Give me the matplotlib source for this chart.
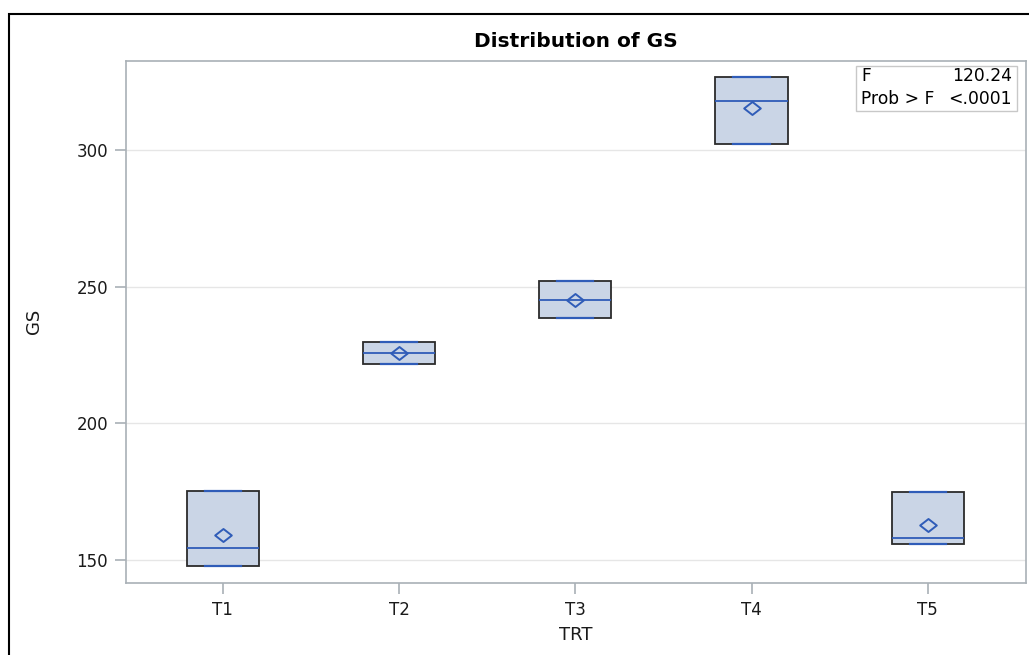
import numpy as np
import matplotlib.pyplot as plt
from matplotlib.patches import Rectangle
from matplotlib.path import Path

plt.rcParams['font.family'] = ['DejaVu Sans']

# GS observations per treatment (3 reps each)
trt = ['T1', 'T2', 'T3', 'T4', 'T5']
gs_values = [
    [148.0, 154.5, 175.2],
    [221.8, 225.7, 229.7],
    [238.7, 245.1, 252.0],
    [302.1, 317.9, 326.5],
    [155.9, 157.9, 174.8],
]
f_value = '120.24'
prob_f = '<.0001'


def sas_pctl(x, p):
    # percentile definition 5 (empirical distribution with averaging)
    x = np.sort(np.asarray(x))
    n = len(x)
    np_ = n * p
    j = int(np.floor(np_))
    g = np_ - j
    if g == 0:
        return 0.5 * (x[j - 1] + x[j])
    return x[j]


def box_stats(vals, label):
    q1 = sas_pctl(vals, 0.25)
    q3 = sas_pctl(vals, 0.75)
    return dict(label=label, med=float(np.median(vals)), q1=q1, q3=q3,
                whislo=min(vals), whishi=max(vals), mean=float(np.mean(vals)),
                fliers=[])


stats = [box_stats(v, t) for v, t in zip(gs_values, trt)]

W, H = 1029, 655
fig = plt.figure(figsize=(W / 100, H / 100), dpi=100)
fig.subplots_adjust(left=126 / W, right=1025.5 / W, top=1 - 60.5 / H, bottom=1 - 583 / H)
ax = fig.add_subplot(111)

blue = '#2f5cb8'
diamond = Path([(-1, 0), (0, 0.78), (1, 0), (0, -0.78), (-1, 0)],
               [Path.MOVETO, Path.LINETO, Path.LINETO, Path.LINETO, Path.CLOSEPOLY])

ax.bxp(stats, positions=range(1, 6), widths=0.41, capwidths=0.205,
       patch_artist=True, showmeans=True, showfliers=False,
       boxprops=dict(facecolor='#cad5e6', edgecolor='#2b2b2b', linewidth=1.3),
       medianprops=dict(color=blue, linewidth=1.3),
       whiskerprops=dict(color=blue, linewidth=1.3),
       capprops=dict(color=blue, linewidth=1.6, zorder=4),
       meanprops=dict(marker=diamond, markersize=12, markerfacecolor='none',
                      markeredgecolor=blue, markeredgewidth=1.4))

ax.set_xlim(0.45, 5.555)
ax.set_ylim(141.6, 332.7)
ax.set_yticks([150, 200, 250, 300])
ax.yaxis.grid(True, color='#e6e6e6', linewidth=1.0)
ax.set_axisbelow(True)

for s in ax.spines.values():
    s.set_color('#a9b0b6')
    s.set_linewidth(1.2)
ax.tick_params(axis='both', colors='#a9b0b6', length=8, width=1.2, labelsize=12,
               labelcolor='#1a1a1a', pad=5)

ax.set_xlabel('TRT', fontsize=13, color='#1a1a1a', labelpad=5)
ax.set_ylabel('GS', fontsize=13, color='#1a1a1a', labelpad=24)
ax.set_title('Distribution of GS', fontsize=14.5, fontweight='bold', pad=10)

# F test inset
ax.add_patch(Rectangle((856 / W, 1 - 111 / H), (1017 - 856) / W, 45 / H,
                       transform=fig.transFigure, facecolor='white',
                       edgecolor='#c8c8c8', linewidth=1.0, zorder=5))
fig.text(861 / W, 1 - 76 / H, 'F', fontsize=12.3, va='center', ha='left', zorder=6)
fig.text(1012 / W, 1 - 76 / H, f_value, fontsize=12.3, va='center', ha='right', zorder=6)
fig.text(861 / W, 1 - 99 / H, 'Prob > F', fontsize=12.3, va='center', ha='left', zorder=6)
fig.text(1012 / W, 1 - 99 / H, prob_f, fontsize=12.3, va='center', ha='right', zorder=6)

# outer graph border
fig.patches.append(Rectangle((9 / W, -0.1), 1.2, 1 - 14 / H + 0.1,
                             transform=fig.transFigure, fill=False,
                             edgecolor='black', linewidth=1.5))

fig.savefig('out.png', dpi=100)
